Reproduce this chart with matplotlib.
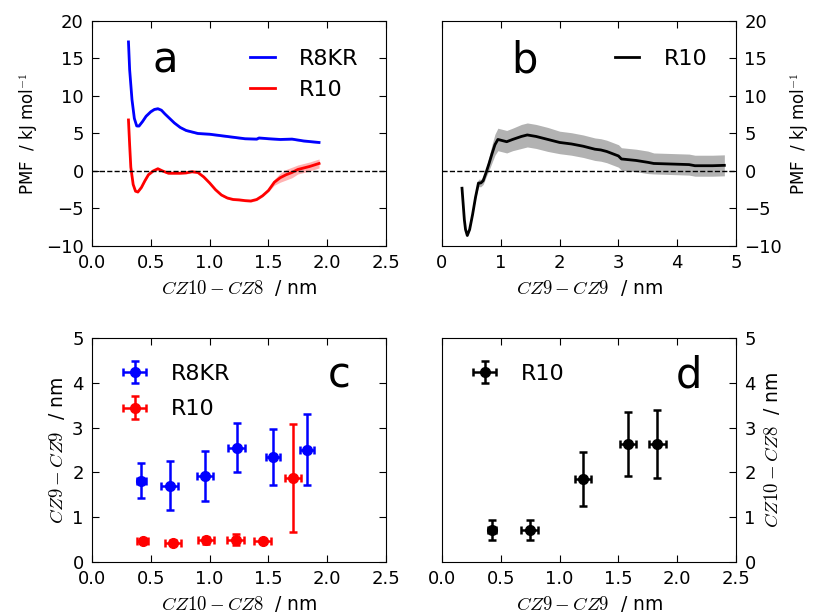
import numpy as np
import matplotlib
matplotlib.use('Agg')
import matplotlib.pyplot as plt

plt.rcParams['font.family'] = ['DejaVu Sans']
plt.rcParams['mathtext.fontset'] = 'cm'
plt.rcParams['xtick.direction'] = 'in'
plt.rcParams['ytick.direction'] = 'in'
plt.rcParams['xtick.major.size'] = 5
plt.rcParams['ytick.major.size'] = 5
plt.rcParams['xtick.labelsize'] = 13
plt.rcParams['ytick.labelsize'] = 13
plt.rcParams['xtick.major.pad'] = 6
plt.rcParams['ytick.major.pad'] = 6

# panel a: PMF vs CZ10-CZ8
a_r8kr_x = [0.31, 0.32, 0.34, 0.36, 0.38, 0.40, 0.43, 0.46, 0.50, 0.53, 0.56, 0.59, 0.62, 0.66,
            0.70, 0.75, 0.80, 0.90, 1.00, 1.10, 1.20, 1.30, 1.40, 1.42, 1.50, 1.60, 1.70, 1.80, 1.93]
a_r8kr_y = [17.2, 13.5, 9.5, 7.0, 6.0, 6.0, 6.6, 7.3, 7.9, 8.2, 8.3, 8.1, 7.6, 7.0,
            6.4, 5.8, 5.4, 5.0, 4.9, 4.7, 4.5, 4.3, 4.25, 4.4, 4.3, 4.2, 4.25, 4.0, 3.8]
a_r8kr_err = [0.15] * 29

a_r10_x = [0.31, 0.32, 0.33, 0.35, 0.37, 0.39, 0.42, 0.45, 0.48, 0.52, 0.56, 0.60, 0.65, 0.70,
           0.75, 0.80, 0.85, 0.90, 0.95, 1.00, 1.05, 1.10, 1.15, 1.20, 1.25, 1.30, 1.35, 1.40,
           1.45, 1.50, 1.55, 1.60, 1.65, 1.70, 1.75, 1.80, 1.85, 1.93]
a_r10_y = [6.8, 3.5, 0.5, -1.8, -2.7, -2.8, -2.2, -1.3, -0.5, 0.0, 0.3, 0.0, -0.3, -0.3,
           -0.3, -0.25, -0.1, -0.2, -0.8, -1.6, -2.5, -3.2, -3.6, -3.8, -3.85, -3.95, -4.0, -3.8,
           -3.3, -2.6, -1.5, -0.9, -0.5, -0.2, 0.2, 0.4, 0.6, 1.0]
a_r10_err = [0.15] * 30 + [0.4, 0.6, 0.7, 0.7, 0.6, 0.6, 0.6, 0.6]

# panel b: PMF vs CZ9-CZ9
b_x = [0.34, 0.38, 0.40, 0.43, 0.47, 0.52, 0.57, 0.62, 0.66, 0.70, 0.75, 0.80, 0.85, 0.90,
       0.95, 1.00, 1.10, 1.20, 1.35, 1.45, 1.60, 1.80, 2.00, 2.20, 2.40, 2.60, 2.70, 2.80,
       3.00, 3.05, 3.30, 3.50, 3.60, 4.00, 4.20, 4.30, 4.60, 4.80]
b_y = [-2.3, -6.5, -7.8, -8.6, -7.8, -5.8, -3.5, -1.6, -1.6, -1.3, -0.2, 1.0, 2.3, 3.5,
       4.2, 4.1, 3.9, 4.2, 4.6, 4.8, 4.6, 4.2, 3.8, 3.6, 3.3, 2.9, 2.8, 2.6,
       2.0, 1.6, 1.4, 1.15, 1.0, 0.9, 0.85, 0.7, 0.7, 0.75]
b_err = [0.1, 0.1, 0.1, 0.1, 0.1, 0.1, 0.2, 0.5, 0.5, 0.5, 0.6, 0.9, 1.2, 1.4,
         1.5, 1.5, 1.5, 1.5, 1.6, 1.6, 1.6, 1.6, 1.5, 1.5, 1.5, 1.5, 1.5, 1.5,
         1.5, 1.5, 1.5, 1.5, 1.4, 1.4, 1.4, 1.4, 1.4, 1.4]

# panel c: CZ9-CZ9 vs CZ10-CZ8
c_r8kr_x = [0.42, 0.66, 0.96, 1.23, 1.54, 1.83]
c_r8kr_y = [1.82, 1.70, 1.92, 2.55, 2.34, 2.51]
c_r8kr_xerr = [0.04, 0.07, 0.07, 0.07, 0.06, 0.06]
c_r8kr_yerr = [0.38, 0.55, 0.56, 0.55, 0.63, 0.80]

c_r10_x = [0.43, 0.69, 0.97, 1.22, 1.45, 1.71]
c_r10_y = [0.47, 0.43, 0.48, 0.50, 0.47, 1.88]
c_r10_xerr = [0.05, 0.07, 0.07, 0.07, 0.07, 0.07]
c_r10_yerr = [0.05, 0.05, 0.08, 0.13, 0.05, 1.21]

# panel d: CZ10-CZ8 vs CZ9-CZ9
d_x = [0.425, 0.745, 1.20, 1.58, 1.83]
d_y = [0.71, 0.71, 1.85, 2.63, 2.63]
d_xerr = [0.03, 0.07, 0.07, 0.07, 0.07]
d_yerr = [0.23, 0.23, 0.60, 0.71, 0.76]

fig = plt.figure(figsize=(8.17, 6.15), dpi=100)
ax_a = fig.add_axes([0.1126, 0.600, 0.360, 0.366])
ax_b = fig.add_axes([0.541, 0.600, 0.360, 0.366])
ax_c = fig.add_axes([0.1126, 0.0862, 0.360, 0.364])
ax_d = fig.add_axes([0.541, 0.0862, 0.360, 0.364])

pmf_label = 'PMF  / kJ mol$^{-1}$'
lab_fs = 12
math_fs = 13.5
leg_kw = dict(frameon=False, fontsize=16, handlelength=1.1, handletextpad=1.1)

# a
for x, y, e, c in [(a_r8kr_x, a_r8kr_y, a_r8kr_err, 'blue'), (a_r10_x, a_r10_y, a_r10_err, 'red')]:
    x, y, e = np.array(x), np.array(y), np.array(e)
    ax_a.fill_between(x, y - e, y + e, color=c, alpha=0.3, lw=0)
ax_a.plot(a_r8kr_x, a_r8kr_y, color='blue', lw=2, label='R8KR')
ax_a.plot(a_r10_x, a_r10_y, color='red', lw=2, label='R10')
ax_a.axhline(0, color='black', ls='--', lw=1)
ax_a.set_xlim(0, 2.5)
ax_a.set_ylim(-10, 20)
ax_a.set_xlabel('$CZ10 - CZ8$  / nm', fontsize=math_fs)
ax_a.set_ylabel(pmf_label, fontsize=lab_fs)
ax_a.tick_params(top=True, right=True)
ax_a.legend(loc='upper left', bbox_to_anchor=(0.47, 0.965), labelspacing=0.5, **leg_kw)
ax_a.text(0.25, 0.77, 'a', transform=ax_a.transAxes, fontsize=30, ha='center')

# b
bx, by, be = np.array(b_x), np.array(b_y), np.array(b_err)
ax_b.fill_between(bx, by - be, by + be, color='gray', alpha=0.6, lw=0)
ax_b.plot(b_x, b_y, color='black', lw=2, label='R10')
ax_b.axhline(0, color='black', ls='--', lw=1)
ax_b.set_xlim(0, 5)
ax_b.set_ylim(-10, 20)
ax_b.set_xlabel('$CZ9 - CZ9$  / nm', fontsize=math_fs)
ax_b.yaxis.tick_right()
ax_b.yaxis.set_label_position('right')
ax_b.set_ylabel(pmf_label, fontsize=lab_fs)
ax_b.tick_params(top=True, left=False)
ax_b.legend(loc='upper left', bbox_to_anchor=(0.52, 0.965), **leg_kw)
ax_b.text(0.28, 0.77, 'b', transform=ax_b.transAxes, fontsize=30, ha='center')

# c
eb_kw = dict(fmt='o', ms=7, elinewidth=1.8, capsize=3, capthick=1.8)
ax_c.errorbar(c_r8kr_x, c_r8kr_y, xerr=c_r8kr_xerr, yerr=c_r8kr_yerr, color='blue',
              mec='blue', label='R8KR', **eb_kw)
ax_c.errorbar(c_r10_x, c_r10_y, xerr=c_r10_xerr, yerr=c_r10_yerr, color='red',
              mec='red', label='R10', **eb_kw)
ax_c.set_xlim(0, 2.5)
ax_c.set_ylim(0, 5)
ax_c.set_xlabel('$CZ10 - CZ8$  / nm', fontsize=math_fs)
ax_c.set_ylabel('$CZ9 - CZ9$  / nm', fontsize=math_fs)
ax_c.tick_params(top=True, right=True)
ax_c.legend(loc='upper left', numpoints=1, labelspacing=0.7, bbox_to_anchor=(0.035, 0.975), **leg_kw)
ax_c.text(0.84, 0.78, 'c', transform=ax_c.transAxes, fontsize=30, ha='center')

# d
ax_d.errorbar(d_x, d_y, xerr=d_xerr, yerr=d_yerr, color='black', mec='black', label='R10', **eb_kw)
ax_d.set_xlim(0, 2.5)
ax_d.set_ylim(0, 5)
ax_d.set_xlabel('$CZ9 - CZ9$  / nm', fontsize=math_fs)
ax_d.yaxis.tick_right()
ax_d.yaxis.set_label_position('right')
ax_d.set_ylabel('$CZ10 - CZ8$  / nm', fontsize=math_fs)
ax_d.tick_params(top=True, left=False)
ax_d.legend(loc='upper left', numpoints=1, bbox_to_anchor=(0.035, 0.975), **leg_kw)
ax_d.text(0.84, 0.78, 'd', transform=ax_d.transAxes, fontsize=30, ha='center')

fig.savefig('out.png', dpi=100)
